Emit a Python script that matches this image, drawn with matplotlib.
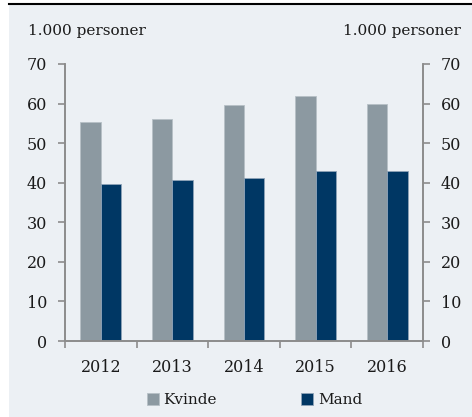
import matplotlib.pyplot as plt
import numpy as np
from matplotlib.patches import Rectangle
from matplotlib.lines import Line2D

years = ['2012', '2013', '2014', '2015', '2016']
kvinde = [55.4, 56.1, 59.6, 61.9, 59.8]
mand = [39.8, 40.8, 41.1, 43.0, 43.0]

plt.rcParams['font.family'] = 'DejaVu Serif'
grey = '#8C99A1'
navy = '#003764'
axcol = '#8C8C8C'
txt = '#1A1A1A'

fig = plt.figure(figsize=(4.72, 4.17), dpi=100)
fig.patches.append(Rectangle((9/472, 0), 1 - 9/472, 1 - 5/417, transform=fig.transFigure,
                             facecolor='#ECF0F4', edgecolor='none', zorder=-10))
fig.lines.append(Line2D([9/472, 1], [1 - 4/417, 1 - 4/417], transform=fig.transFigure,
                        color='black', lw=1.5))

ax = fig.add_axes([65/472, 76/417, 358/472, 277/417])
ax.set_facecolor('none')
x = np.arange(len(years))
w = 0.286
ax.bar(x - w/2, kvinde, w, color=grey, edgecolor='#B7C0C6', linewidth=0.6, label='Kvinde')
ax.bar(x + w/2, mand, w, color=navy, edgecolor='#8FA3B8', linewidth=0.6, label='Mand')

ax.set_xlim(-0.5, 4.5)
ax.set_ylim(0, 70)
ax.set_yticks(range(0, 71, 10))
ax.set_xticks(x)
ax.set_xticklabels(years)
ax.set_xticks(np.arange(-0.5, 5, 1), minor=True)
ax.tick_params(axis='x', which='major', length=0, pad=13, labelsize=11.5, colors=txt)
ax.tick_params(axis='x', which='minor', length=5, direction='out', color=axcol, width=1.2)
ax.tick_params(axis='y', length=5, direction='out', color=axcol, width=1.2,
               labelsize=11.5, labelcolor=txt, pad=8)
ax.spines['top'].set_visible(False)
for s in ['left', 'right', 'bottom']:
    ax.spines[s].set_color(axcol)
    ax.spines[s].set_linewidth(1.2)

ax2 = ax.twinx()
ax2.set_ylim(0, 70)
ax2.set_yticks(range(0, 71, 10))
ax2.tick_params(axis='y', length=5, direction='out', color=axcol, width=1.2,
                labelsize=11.5, labelcolor=txt, pad=8)
ax2.spines['top'].set_visible(False)
for s in ['left', 'right', 'bottom']:
    ax2.spines[s].set_color(axcol)
    ax2.spines[s].set_linewidth(1.2)

fig.text(28/472, 1 - 31/417, '1.000 personer', fontsize=11, color=txt, ha='left', va='center')
fig.text(461/472, 1 - 31/417, '1.000 personer', fontsize=11, color=txt, ha='right', va='center')

fig.legend(loc='center', bbox_to_anchor=(0.539, 1 - 400/417), ncol=2, frameon=False,
           fontsize=11, handlelength=0.8, handleheight=0.8, handletextpad=0.3,
           columnspacing=5.5, labelcolor=txt)

fig.savefig('out.png', dpi=100)
